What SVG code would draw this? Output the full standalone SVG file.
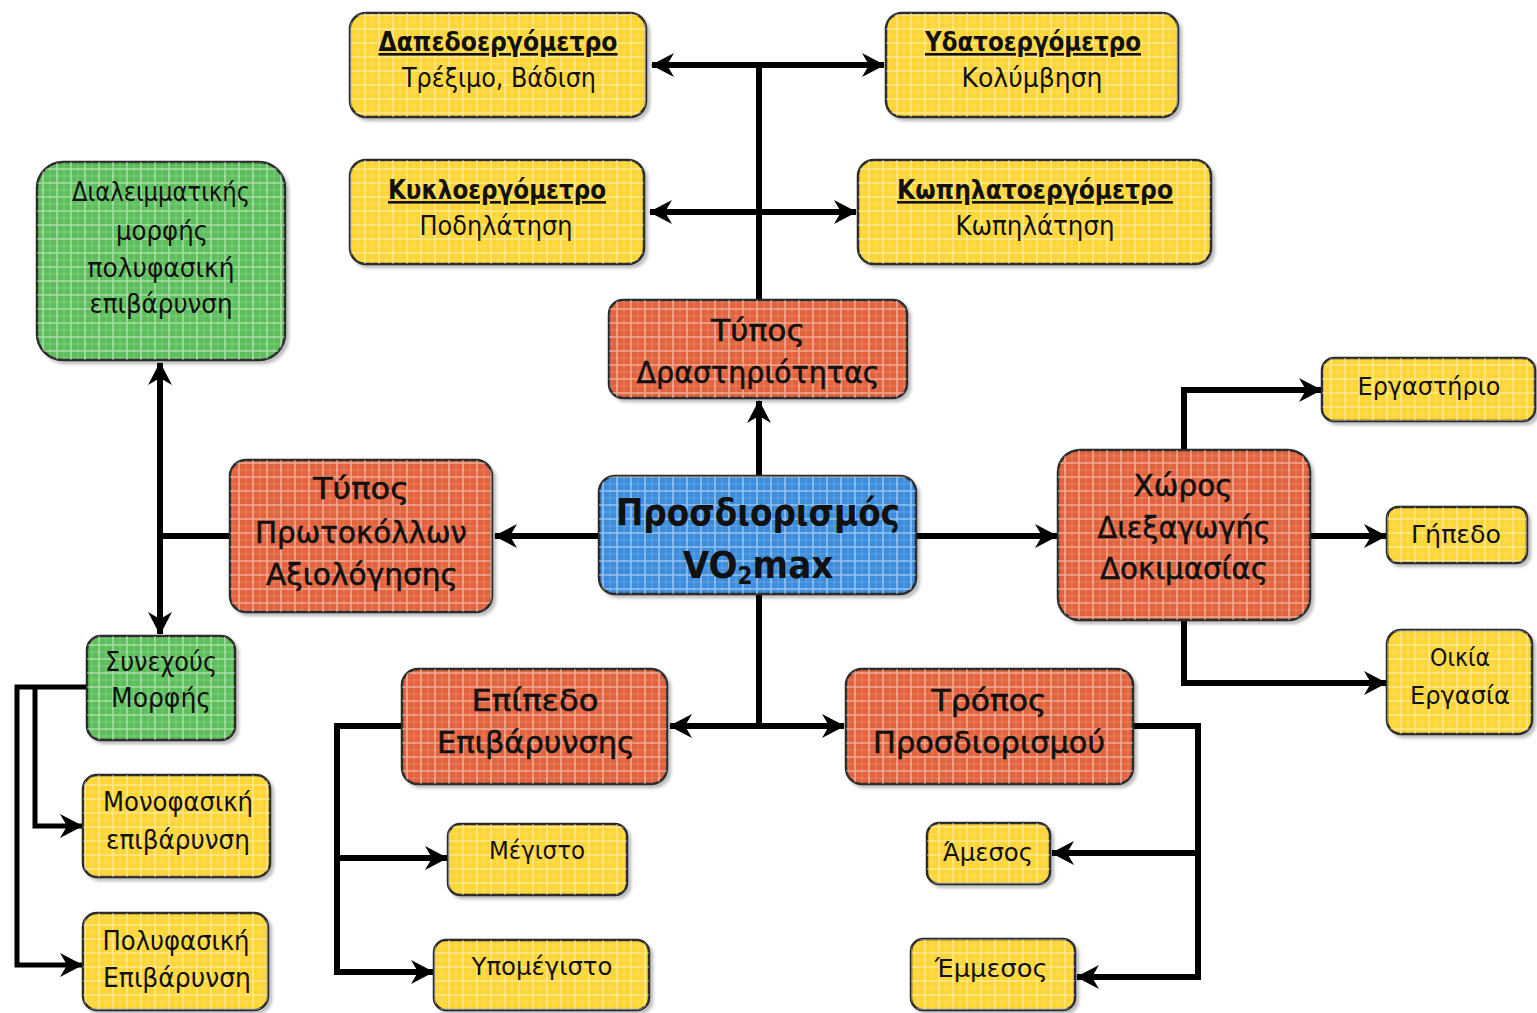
<svg xmlns="http://www.w3.org/2000/svg" width="1537" height="1013" viewBox="0 0 1537 1013">
<defs>
<pattern id="grid" width="28" height="28" patternUnits="userSpaceOnUse">
<path d="M1,0 V28 M15,0 V28 M0,1 H28 M0,15 H28" stroke="#fff" stroke-width="1.6" stroke-opacity="0.45" fill="none"/>
<path d="M8,0 V28 M22,0 V28 M0,8 H28 M0,22 H28" stroke="#fff" stroke-width="1" stroke-opacity="0.18" fill="none"/>
</pattern>
<filter id="sh" x="-10%" y="-10%" width="120%" height="130%">
<feDropShadow dx="3" dy="3" stdDeviation="1.5" flood-color="#000" flood-opacity="0.25"/>
</filter>
<marker id="ah" markerUnits="userSpaceOnUse" markerWidth="24" markerHeight="26" refX="22" refY="13" orient="auto-start-reverse" viewBox="0 0 24 26">
<path d="M0,1 L23,13 L0,25 L7,13 Z" fill="#000"/>
</marker>
<style>
.b{stroke:#2b2b2b;stroke-width:2.5;filter:url(#sh)}
.y{fill:#FDD535}
.r{fill:#E2633E}
.bl{fill:#3D8DDD}
.g{fill:#5DBF5C}
.gr{fill:url(#grid);stroke:none}
text{font-family:"DejaVu Sans Condensed","DejaVu Sans","Liberation Sans",sans-serif;text-anchor:middle;fill:#111}
.t1{font-size:26px;font-weight:bold;text-decoration:underline}
.t2{font-size:26px}
.t3{font-size:31px;stroke:#111;stroke-width:0.5}
.t4{font-size:38px;font-weight:bold}
.t5{font-size:25px}
.c{fill:none;stroke:#000;stroke-width:6}
.c2{fill:none;stroke:#000;stroke-width:5}
</style>
</defs>
<rect width="1537" height="1013" fill="#fff"/>

<g id="connectors">
<path class="c" d="M759,300 V65"/>
<path class="c" d="M652,65 H884" marker-start="url(#ah)" marker-end="url(#ah)"/>
<path class="c" d="M650,212 H856" marker-start="url(#ah)" marker-end="url(#ah)"/>
<path class="c" d="M759,476 V401" marker-end="url(#ah)"/>
<path class="c" d="M599,536 H495" marker-end="url(#ah)"/>
<path class="c" d="M916,536 H1057" marker-end="url(#ah)"/>
<path class="c" d="M759,594 V726"/>
<path class="c" d="M670,726 H844" marker-start="url(#ah)" marker-end="url(#ah)"/>
<path class="c" d="M160,363 V634" marker-start="url(#ah)" marker-end="url(#ah)"/>
<path class="c" d="M230,536 H160"/>
<path class="c2" d="M87,687 H17 V965 H82" marker-end="url(#ah)"/>
<path class="c2" d="M35,687 V826 H82" marker-end="url(#ah)"/>
<path class="c" d="M402,726 H337 V972 H433" marker-end="url(#ah)"/>
<path class="c" d="M337,858 H447" marker-end="url(#ah)"/>
<path class="c" d="M1133,726 H1198 V977 H1077" marker-end="url(#ah)"/>
<path class="c" d="M1198,853 H1052" marker-end="url(#ah)"/>
<path class="c" d="M1184,450 V390 H1321" marker-end="url(#ah)"/>
<path class="c" d="M1310,536 H1386" marker-end="url(#ah)"/>
<path class="c" d="M1184,620 V683 H1386" marker-end="url(#ah)"/>
</g>

<g id="n-dapedo">
<rect class="b y" x="350" y="13" width="296" height="104" rx="16"/>
<rect class="gr" x="350" y="13" width="296" height="104" rx="16"/>
<text class="t1" x="498" y="51" textLength="239" lengthAdjust="spacingAndGlyphs">Δαπεδοεργόμετρο</text>
<text class="t2" x="499" y="87" textLength="194" lengthAdjust="spacingAndGlyphs">Τρέξιμο, Βάδιση</text>
</g>
<g id="n-ydato">
<rect class="b y" x="886" y="13" width="292" height="104" rx="16"/>
<rect class="gr" x="886" y="13" width="292" height="104" rx="16"/>
<text class="t1" x="1033" y="51" textLength="216" lengthAdjust="spacingAndGlyphs">Υδατοεργόμετρο</text>
<text class="t2" x="1032" y="87" textLength="141" lengthAdjust="spacingAndGlyphs">Κολύμβηση</text>
</g>
<g id="n-kyklo">
<rect class="b y" x="350" y="160" width="294" height="104" rx="16"/>
<rect class="gr" x="350" y="160" width="294" height="104" rx="16"/>
<text class="t1" x="497" y="199" textLength="218" lengthAdjust="spacingAndGlyphs">Κυκλοεργόμετρο</text>
<text class="t2" x="496" y="235" textLength="153" lengthAdjust="spacingAndGlyphs">Ποδηλάτηση</text>
</g>
<g id="n-kopi">
<rect class="b y" x="858" y="160" width="353" height="104" rx="16"/>
<rect class="gr" x="858" y="160" width="353" height="104" rx="16"/>
<text class="t1" x="1035" y="199" textLength="276" lengthAdjust="spacingAndGlyphs">Κωπηλατοεργόμετρο</text>
<text class="t2" x="1035" y="235" textLength="159" lengthAdjust="spacingAndGlyphs">Κωπηλάτηση</text>
</g>
<g id="n-typos-drast">
<rect class="b r" x="609" y="300" width="298" height="98" rx="14"/>
<rect class="gr" x="609" y="300" width="298" height="98" rx="14"/>
<text class="t3" x="758" y="341" textLength="94" lengthAdjust="spacingAndGlyphs">Τύπος</text>
<text class="t3" x="758" y="383" textLength="243" lengthAdjust="spacingAndGlyphs">Δραστηριότητας</text>
</g>
<g id="n-vo2">
<rect class="b bl" x="599" y="476" width="317" height="118" rx="16"/>
<rect class="gr" x="599" y="476" width="317" height="118" rx="16"/>
<text class="t4" x="758" y="525" textLength="284" lengthAdjust="spacingAndGlyphs">Προσδιορισμός</text>
<text class="t4" x="758" y="578">VO<tspan font-size="24" dy="6">2</tspan><tspan dy="-6">max</tspan></text>
</g>
<g id="n-protokollon">
<rect class="b r" x="230" y="460" width="262" height="152" rx="16"/>
<rect class="gr" x="230" y="460" width="262" height="152" rx="16"/>
<text class="t3" x="361" y="499" textLength="96" lengthAdjust="spacingAndGlyphs">Τύπος</text>
<text class="t3" x="361" y="543" textLength="212" lengthAdjust="spacingAndGlyphs">Πρωτοκόλλων</text>
<text class="t3" x="362" y="585" textLength="192" lengthAdjust="spacingAndGlyphs">Αξιολόγησης</text>
</g>
<g id="n-dialeimm">
<rect class="b g" x="37" y="162" width="248" height="198" rx="26"/>
<rect class="gr" x="37" y="162" width="248" height="198" rx="26"/>
<text class="t2" x="161" y="201" textLength="178" lengthAdjust="spacingAndGlyphs">Διαλειμματικής</text>
<text class="t2" x="162" y="240" textLength="92" lengthAdjust="spacingAndGlyphs">μορφής</text>
<text class="t2" x="161" y="277" textLength="147" lengthAdjust="spacingAndGlyphs">πολυφασική</text>
<text class="t2" x="161" y="313" textLength="143" lengthAdjust="spacingAndGlyphs">επιβάρυνση</text>
</g>
<g id="n-synexous">
<rect class="b g" x="87" y="636" width="148" height="104" rx="14"/>
<rect class="gr" x="87" y="636" width="148" height="104" rx="14"/>
<text class="t2" x="161" y="671" textLength="112" lengthAdjust="spacingAndGlyphs">Συνεχούς</text>
<text class="t2" x="161" y="707" textLength="100" lengthAdjust="spacingAndGlyphs">Μορφής</text>
</g>
<g id="n-monofasiki">
<rect class="b y" x="83" y="775" width="187" height="102" rx="14"/>
<rect class="gr" x="83" y="775" width="187" height="102" rx="14"/>
<text class="t2" x="178" y="811" textLength="150" lengthAdjust="spacingAndGlyphs">Μονοφασική</text>
<text class="t2" x="178" y="849" textLength="144" lengthAdjust="spacingAndGlyphs">επιβάρυνση</text>
</g>
<g id="n-polyfasiki">
<rect class="b y" x="83" y="913" width="185" height="97" rx="14"/>
<rect class="gr" x="83" y="913" width="185" height="97" rx="14"/>
<text class="t2" x="176" y="950" textLength="147" lengthAdjust="spacingAndGlyphs">Πολυφασική</text>
<text class="t2" x="177" y="987" textLength="148" lengthAdjust="spacingAndGlyphs">Επιβάρυνση</text>
</g>
<g id="n-epipedo">
<rect class="b r" x="402" y="669" width="265" height="115" rx="16"/>
<rect class="gr" x="402" y="669" width="265" height="115" rx="16"/>
<text class="t3" x="535" y="711" textLength="127" lengthAdjust="spacingAndGlyphs">Επίπεδο</text>
<text class="t3" x="536" y="753" textLength="198" lengthAdjust="spacingAndGlyphs">Επιβάρυνσης</text>
</g>
<g id="n-tropos">
<rect class="b r" x="846" y="669" width="287" height="115" rx="16"/>
<rect class="gr" x="846" y="669" width="287" height="115" rx="16"/>
<text class="t3" x="989" y="711" textLength="115" lengthAdjust="spacingAndGlyphs">Τρόπος</text>
<text class="t3" x="989" y="753" textLength="232" lengthAdjust="spacingAndGlyphs">Προσδιορισμού</text>
</g>
<g id="n-megisto">
<rect class="b y" x="448" y="824" width="179" height="71" rx="12"/>
<rect class="gr" x="448" y="824" width="179" height="71" rx="12"/>
<text class="t5" x="537" y="859" textLength="96" lengthAdjust="spacingAndGlyphs">Μέγιστο</text>
</g>
<g id="n-ypomegisto">
<rect class="b y" x="434" y="940" width="215" height="70" rx="12"/>
<rect class="gr" x="434" y="940" width="215" height="70" rx="12"/>
<text class="t5" x="542" y="975" textLength="141" lengthAdjust="spacingAndGlyphs">Υπομέγιστο</text>
</g>
<g id="n-amesos">
<rect class="b y" x="927" y="823" width="123" height="61" rx="12"/>
<rect class="gr" x="927" y="823" width="123" height="61" rx="12"/>
<text class="t5" x="988" y="861" textLength="90" lengthAdjust="spacingAndGlyphs">Άμεσος</text>
</g>
<g id="n-emmesos">
<rect class="b y" x="911" y="939" width="164" height="71" rx="12"/>
<rect class="gr" x="911" y="939" width="164" height="71" rx="12"/>
<text class="t5" x="991" y="977" textLength="113" lengthAdjust="spacingAndGlyphs">Έμμεσος</text>
</g>
<g id="n-xoros">
<rect class="b r" x="1058" y="450" width="252" height="170" rx="22"/>
<rect class="gr" x="1058" y="450" width="252" height="170" rx="22"/>
<text class="t3" x="1183" y="496" textLength="99" lengthAdjust="spacingAndGlyphs">Χώρος</text>
<text class="t3" x="1184" y="538" textLength="173" lengthAdjust="spacingAndGlyphs">Διεξαγωγής</text>
<text class="t3" x="1184" y="579" textLength="168" lengthAdjust="spacingAndGlyphs">Δοκιμασίας</text>
</g>
<g id="n-ergastirio">
<rect class="b y" x="1322" y="358" width="213" height="63" rx="12"/>
<rect class="gr" x="1322" y="358" width="213" height="63" rx="12"/>
<text class="t5" x="1429" y="395" textLength="143" lengthAdjust="spacingAndGlyphs">Εργαστήριο</text>
</g>
<g id="n-gipedo">
<rect class="b y" x="1387" y="507" width="140" height="56" rx="11"/>
<rect class="gr" x="1387" y="507" width="140" height="56" rx="11"/>
<text class="t5" x="1456" y="543" textLength="90" lengthAdjust="spacingAndGlyphs">Γήπεδο</text>
</g>
<g id="n-oikia">
<rect class="b y" x="1387" y="630" width="145" height="104" rx="14"/>
<rect class="gr" x="1387" y="630" width="145" height="104" rx="14"/>
<text class="t5" x="1460" y="666" textLength="60" lengthAdjust="spacingAndGlyphs">Οικία</text>
<text class="t5" x="1460" y="704" textLength="100" lengthAdjust="spacingAndGlyphs">Εργασία</text>
</g>
</svg>
